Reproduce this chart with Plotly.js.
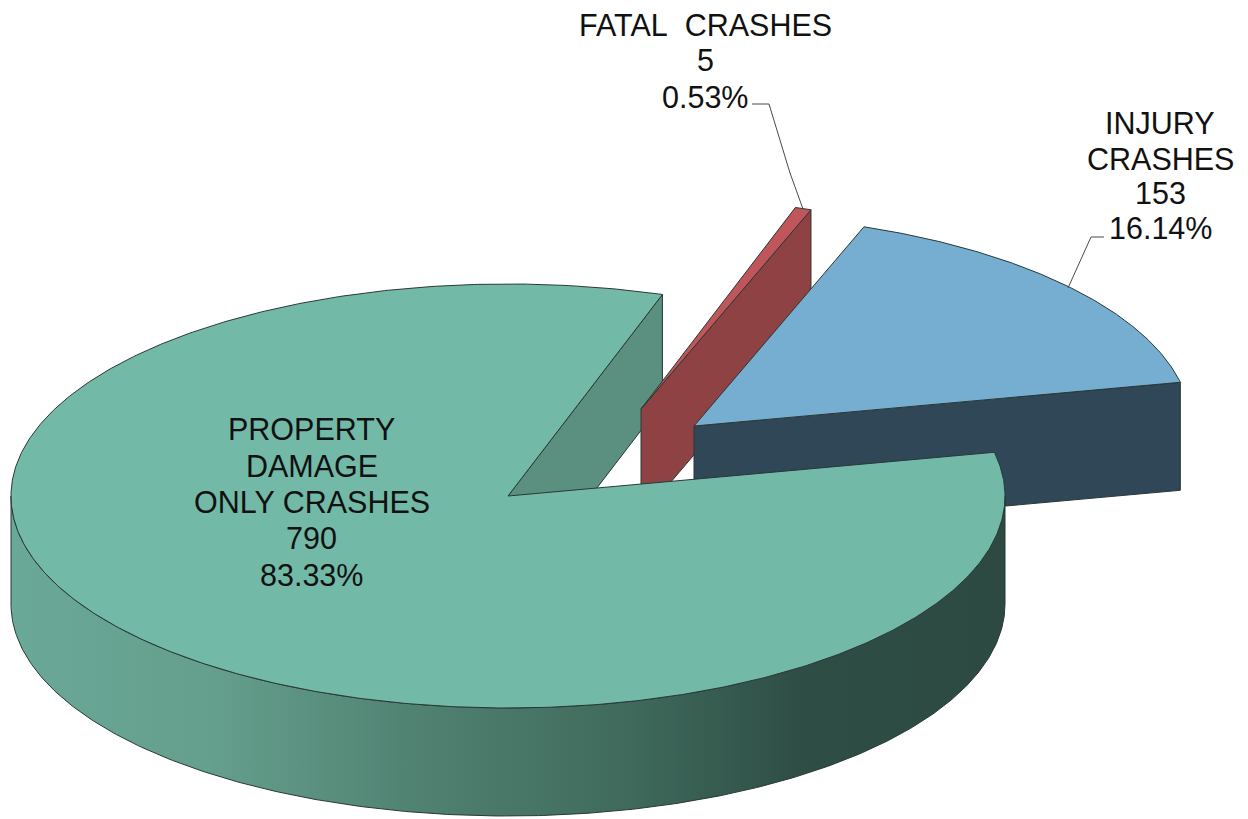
<!DOCTYPE html>
<html>
<head>
<meta charset="utf-8">
<script src="https://cdn.plot.ly/plotly-3.0.1.min.js"></script>
<style>html,body{margin:0;padding:0;background:#fff}</style>
</head>
<body>
<div id="chart" style="width:1248px;height:819px"></div>
<script>
// Data
var categories = ['PROPERTY DAMAGE ONLY CRASHES', 'INJURY CRASHES', 'FATAL CRASHES'];
var counts = [790, 153, 5];
var percents = ['83.33%', '16.14%', '0.53%'];

// Label line breaks
var propertyLines = ['PROPERTY', 'DAMAGE', 'ONLY CRASHES', String(counts[0]), percents[0]];
var injuryLines = ['INJURY', 'CRASHES', String(counts[1]), percents[1]];
var fatalLines = ['FATAL\u00a0 CRASHES', String(counts[2]), percents[2]];

// Projection of the 3D pie onto the page
var radiusX = 497, radiusY = 212, depth = 108;
var blueStartDeg = 70; // where injury slice begins, counter-clockwise degrees
var centers = { property: [508, 496], injury: [694, 426], fatal: [641, 409] };
var colors = {
  propTop: '#72baa7', propWall: '#5b8f7f',
  injTop: '#76aed1', injWall: '#2f4756',
  fatTop: '#c0565a', fatWall: '#8e4243',
  edge: '#2a3836'
};
var wallScale = [
  [0, '#6aa897'], [0.2, '#659f8d'], [0.42, '#4f8070'],
  [0.62, '#3f6a5c'], [0.8, '#2e4d44'], [1, '#2c4a42']
];

var total = counts.reduce(function (a, b) { return a + b; }, 0);
var sweep = counts.map(function (v) { return v / total * 360; });
var injuryFrom = blueStartDeg - sweep[1], injuryTo = blueStartDeg;
var fatalFrom = blueStartDeg, fatalTo = blueStartDeg + sweep[2];
var propertyFrom = fatalTo, propertyTo = fatalTo + sweep[0];

function pt(c, deg, drop) {
  var a = deg * Math.PI / 180;
  return [c[0] + radiusX * Math.cos(a), c[1] - radiusY * Math.sin(a) + (drop || 0)];
}
function arc(c, from, to, drop) {
  var n = Math.max(2, Math.ceil(Math.abs(to - from) * 2)), out = [];
  for (var i = 0; i <= n; i++) out.push(pt(c, from + (to - from) * i / n, drop));
  return out;
}
function poly(points, fill, extra) {
  var t = {
    x: points.map(function (p) { return p[0]; }),
    y: points.map(function (p) { return p[1]; }),
    mode: 'lines', fill: 'toself', fillcolor: fill,
    line: { color: colors.edge, width: 1 }, hoverinfo: 'skip', type: 'scatter'
  };
  for (var k in extra) t[k] = extra[k];
  return t;
}
function topFace(c, from, to, fill) {
  return poly([c].concat(arc(c, from, to, 0)).concat([c]), fill);
}
function radialWall(c, deg, fill) {
  var o = pt(c, deg, 0), ob = pt(c, deg, depth), cb = [c[0], c[1] + depth];
  return poly([c, o, ob, cb, c], fill);
}
function leader(xs, ys) {
  return { x: xs, y: ys, mode: 'lines', type: 'scatter', hoverinfo: 'skip',
           line: { color: '#4a4a4a', width: 1 } };
}

var outerTop = arc(centers.property, 180, 360, 0);
var outerBottom = arc(centers.property, 360, 180, depth);
var outerPts = outerTop.concat(outerBottom);
outerPts.push(outerTop[0]);

var traces = [
  radialWall(centers.property, propertyFrom, colors.propWall),
  radialWall(centers.fatal, fatalFrom, colors.fatWall),
  topFace(centers.fatal, fatalFrom, fatalTo, colors.fatTop),
  radialWall(centers.injury, injuryFrom, colors.injWall),
  topFace(centers.injury, injuryFrom, injuryTo, colors.injTop),
  poly(outerPts, colors.propWall, {
    fillgradient: { type: 'horizontal', colorscale: wallScale, start: 10, stop: 1005 }
  }),
  topFace(centers.property, propertyFrom, propertyTo, colors.propTop),
  leader([752, 769, 790, 803], [104, 104, 173, 209]),
  leader([1104, 1091, 1068], [237, 237, 288])
];

function textLines(lines, x, ys) {
  return lines.map(function (s, i) {
    return { text: s, x: x, y: ys[i], xref: 'x', yref: 'y', showarrow: false,
             xanchor: 'center', yanchor: 'middle',
             font: { family: '"Liberation Sans", Arial, sans-serif', size: 30.5, color: '#111' } };
  });
}

var annotations = []
  .concat(textLines(propertyLines, 311.5, [429, 466, 502, 538, 575]))
  .concat(textLines(injuryLines, 1160, [123, 159, 193, 228]))
  .concat(textLines(fatalLines, 705, [25, 60, 97]));

var hidden = { visible: false, fixedrange: true, showgrid: false, zeroline: false };
Plotly.newPlot('chart', traces, {
  width: 1248, height: 819,
  margin: { l: 0, r: 0, t: 0, b: 0 },
  paper_bgcolor: '#ffffff', plot_bgcolor: '#ffffff',
  showlegend: false, hovermode: false,
  xaxis: Object.assign({ range: [0, 1248] }, hidden),
  yaxis: Object.assign({ range: [819, 0] }, hidden),
  annotations: annotations
}, { displayModeBar: false, staticPlot: true });
</script>
</body>
</html>
